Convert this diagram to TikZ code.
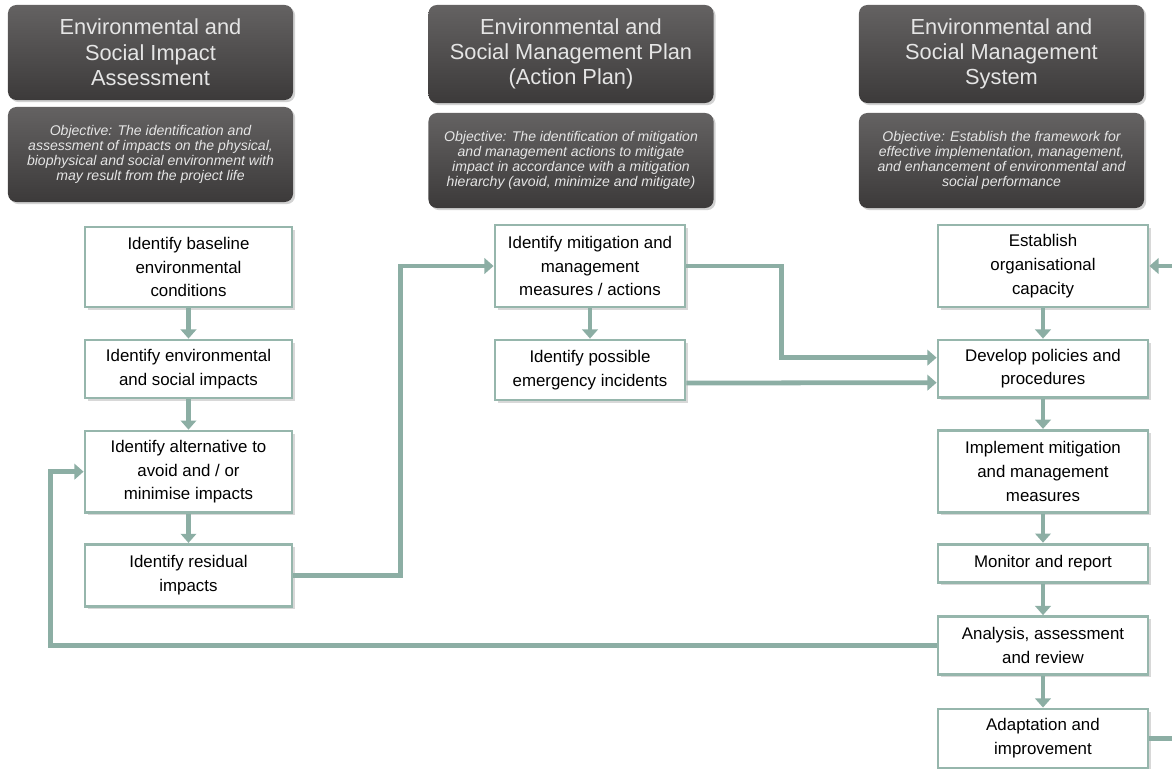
\documentclass[tikz,border=0pt]{standalone}
\usepackage{fontspec}
\setmainfont{Liberation Sans}
\usepackage{tikz}
\usetikzlibrary{positioning}
\usetikzlibrary{calc}
\usetikzlibrary{arrows.meta,shadows}
\definecolor{flowline}{RGB}{140,174,164}
\definecolor{flowedge}{RGB}{150,182,172}
\definecolor{headtop}{RGB}{100,98,98}
\definecolor{headbot}{RGB}{60,58,58}
\tikzstyle{arrow}=
[line width=3.4pt,draw=flowline,-{Triangle[length=6.5pt,width=11pt]}]
\tikzstyle{headbox}=
[rectangle,
rounded corners=6pt,
minimum width=7.125cm,
top color=headtop,
bottom color=headbot,
text=white!90!black,
align=center,
drop shadow={shadow xshift=1.5pt,shadow yshift=-1.5pt,fill=black!35}]
\tikzstyle{titlebox}=
[headbox,font=\fontsize{15.5}{18}\selectfont]
\tikzstyle{aimbox}=
[headbox,minimum height=2.375cm,font=\itshape\fontsize{10}{10.8}\selectfont]
\tikzstyle{stepbox}=
[rectangle,
draw=flowedge,
line width=2pt,
fill=white,
align=center,
font=\fontsize{12}{17}\selectfont,
drop shadow={shadow xshift=2pt,shadow yshift=-2pt,fill=black!30}]
\tikzstyle{colone}=[stepbox,minimum width=5.175cm]
\tikzstyle{coltwo}=[stepbox,minimum width=4.75cm]
\tikzstyle{colthree}=[stepbox,minimum width=5.25cm]

\begin{document}
\begin{tikzpicture}[x=0.025cm,y=-0.025cm,node distance=0.755cm]
\useasboundingbox (0,0) rectangle (1172,769);
\clip (0,0) rectangle (1172,769);
% headers
\node (ESIA) [titlebox,minimum height=2.375cm] at (150.5,52.5)
{Environmental and\\Social Impact\\Assessment};
\node (ESIAaim) [aimbox] at (150.5,154.5)
{Objective: The identification and\\assessment of impacts on the physical,\\biophysical and social environment with\\may result from the project life};
\node (ESMP) [titlebox,minimum height=2.45cm] at (571,54)
{Environmental and\\Social Management Plan\\(Action Plan)};
\node (ESMPaim) [aimbox] at (571,160.5)
{Objective: The identification of mitigation\\and management actions to mitigate\\impact in accordance with a mitigation\\hierarchy (avoid, minimize and mitigate)};
\node (ESMS) [titlebox,minimum height=2.45cm] at (1001.5,54)
{Environmental and\\Social Management\\System};
\node (ESMSaim) [aimbox] at (1001.5,160.5)
{Objective: Establish the framework for\\effective implementation, management,\\and enhancement of environmental and\\social performance};
% impact assessment column
\node (base) [colone,minimum height=2cm] at (188.5,267)
{Identify baseline\\environmental\\conditions};
\node (envimp) [colone,minimum height=1.45cm,below=of base]
{Identify environmental\\and social impacts};
\draw[arrow](base)--(envimp);
\node (alt) [colone,minimum height=2.03cm,below=of envimp]
{Identify alternative to\\avoid and / or\\minimise impacts};
\draw[arrow](envimp)--(alt);
\node (resid) [colone,minimum height=1.55cm,below=0.73cm of alt]
{Identify residual\\impacts};
\draw[arrow](alt)--(resid);
% action plan column
\node (mitig) [coltwo,minimum height=2.05cm] at (590,266)
{Identify mitigation and\\management\\measures / actions};
\node (emerg) [coltwo,minimum height=1.5cm,below=of mitig]
{Identify possible\\emergency incidents};
\draw[arrow](mitig)--(emerg);
\draw[arrow](resid.east)-|($(mitig.west)+(-93,0)$)--(mitig.west);
% management system column
\node (estab) [colthree,minimum height=2.05cm] at (1043,266)
{Establish\\organisational\\capacity};
\node (devel) [colthree,minimum height=1.43cm,below=of estab]
{Develop policies and\\procedures};
\draw[arrow](estab)--(devel);
\node (implem) [colthree,minimum height=2.05cm,below=of devel]
{Implement mitigation\\and management\\measures};
\draw[arrow](devel)--(implem);
\node (monit) [colthree,minimum height=0.95cm,below=0.725cm of implem]
{Monitor and report};
\draw[arrow](implem)--(monit);
\node (anal) [colthree,minimum height=1.45cm,below=0.79cm of monit]
{Analysis, assessment\\and review};
\draw[arrow](monit)--(anal);
\node (adapt) [colthree,minimum height=1.48cm,below=0.79cm of anal]
{Adaptation and\\improvement};
\draw[arrow](anal)--(adapt);
% links between columns
\draw[arrow](mitig.east)-|($(devel.west)+(-155,-11)$)--($(devel.west)+(0,-11)$);
\draw[arrow]($(emerg.east)+(0,13)$)--($(devel.west)+(0,14)$);
\draw[arrow](anal.west)-|($(alt.west)+(-33,0)$)--(alt.west);
\draw[arrow](adapt.east)-|($(estab.east)+(40,0)$)--(estab.east);
\end{tikzpicture}
\end{document}
